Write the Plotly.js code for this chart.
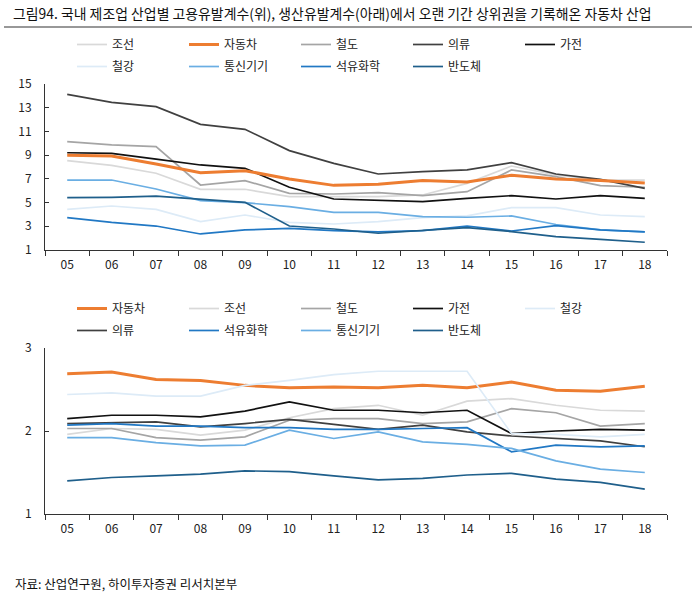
<!DOCTYPE html>
<html>
<head>
<meta charset="utf-8">
<script src="https://cdn.plot.ly/plotly-3.0.1.min.js"></script>
<style>html,body{margin:0;padding:0;background:#fff;}#chart{width:692px;height:593px;}</style>
</head>
<body>
<div id="chart"></div>
<script>
// categories (years)
var years = ['05','06','07','08','09','10','11','12','13','14','15','16','17','18'];

// 고용유발계수 (top)
var emp_shipbuilding = [8.53,8.14,7.47,6.12,6.12,5.5,5.5,5.5,5.64,6.62,8.08,7.33,6.9,6.9];
var emp_auto         = [8.98,8.93,8.25,7.52,7.69,6.99,6.45,6.54,6.85,6.73,7.3,6.99,6.85,6.65];
var emp_rail         = [10.14,9.86,9.72,6.48,6.85,5.78,5.72,5.84,5.58,5.92,7.75,7.19,6.43,6.29];
var emp_apparel      = [14.13,13.45,13.09,11.6,11.18,9.38,8.31,7.41,7.61,7.75,8.37,7.41,6.96,6.2];
var emp_appliance    = [9.2,9.15,8.67,8.17,7.89,6.29,5.3,5.22,5.08,5.36,5.58,5.3,5.58,5.36];
var emp_steel        = [4.43,4.71,4.43,3.39,3.95,3.33,3.19,3.39,3.73,3.87,4.57,4.57,3.95,3.81];
var emp_telecom      = [6.9,6.9,6.14,5.16,4.99,4.65,4.18,4.18,3.81,3.76,3.87,3.15,2.69,2.52];
var emp_petro        = [3.73,3.33,3.02,2.35,2.69,2.83,2.63,2.52,2.63,3.02,2.6,3.05,2.69,2.52];
var emp_semi         = [5.41,5.44,5.55,5.3,5.02,3.02,2.77,2.41,2.63,2.88,2.55,2.12,1.9,1.65];

// 생산유발계수 (bottom)
var prod_auto         = [2.69,2.71,2.62,2.61,2.55,2.52,2.53,2.52,2.55,2.52,2.59,2.49,2.48,2.54];
var prod_shipbuilding = [1.96,2.03,2.02,1.95,2.01,2.16,2.27,2.31,2.19,2.36,2.39,2.31,2.25,2.24];
var prod_rail         = [2.03,2.03,1.92,1.89,1.93,2.13,2.15,2.15,2.09,2.11,2.27,2.22,2.06,2.09];
var prod_appliance    = [2.15,2.19,2.19,2.17,2.24,2.35,2.25,2.25,2.22,2.25,1.97,2.0,2.02,2.01];
var prod_steel        = [2.44,2.46,2.42,2.42,2.55,2.61,2.68,2.72,2.72,2.72,1.97,1.96,1.93,1.96];
var prod_apparel      = [2.09,2.1,2.11,2.05,2.09,2.14,2.08,2.02,2.07,1.99,1.94,1.91,1.88,1.81];
var prod_petro        = [2.07,2.09,2.06,2.06,2.04,2.04,2.02,2.02,2.03,2.04,1.75,1.83,1.81,1.82];
var prod_telecom      = [1.92,1.92,1.86,1.82,1.83,2.01,1.91,1.99,1.87,1.84,1.79,1.64,1.54,1.5];
var prod_semi         = [1.4,1.44,1.46,1.48,1.52,1.51,1.46,1.41,1.43,1.47,1.49,1.42,1.38,1.3];

var yTicksTop = [1,3,5,7,9,11,13,15];
var yTicksBottom = [1,2,3];

var titleText = '그림94. 국내 제조업 산업별 고용유발계수(위), 생산유발계수(아래)에서 오랜 기간 상위권을 기록해온 자동차 산업';
var sourceText = '자료: 산업연구원, 하이투자증권 리서치본부';

var C = {
  '조선': '#D9D9D9', '자동차': '#ED7D31', '철도': '#A5A5A5', '의류': '#404040', '가전': '#111111',
  '철강': '#DDEBF7', '통신기기': '#6AAEE3', '석유화학': '#2178C4', '반도체': '#1F5F8B'
};

function tr(name, y, xa, ya, leg, rank) {
  return {
    type: 'scatter', mode: 'lines', name: name, x: years, y: y,
    xaxis: xa, yaxis: ya, legend: leg, legendrank: rank,
    line: {color: C[name], width: name === '자동차' ? 3 : 1.7},
    hoverinfo: 'skip'
  };
}

var data = [
  // top: legend row 1
  tr('조선', emp_shipbuilding, 'x', 'y', 'legend', 1),
  tr('자동차', emp_auto, 'x', 'y', 'legend', 2),
  tr('철도', emp_rail, 'x', 'y', 'legend', 3),
  tr('의류', emp_apparel, 'x', 'y', 'legend', 4),
  tr('가전', emp_appliance, 'x', 'y', 'legend', 5),
  // top: legend row 2
  tr('철강', emp_steel, 'x', 'y', 'legend2', 1),
  tr('통신기기', emp_telecom, 'x', 'y', 'legend2', 2),
  tr('석유화학', emp_petro, 'x', 'y', 'legend2', 3),
  tr('반도체', emp_semi, 'x', 'y', 'legend2', 4),
  // bottom: legend row 1
  tr('자동차', prod_auto, 'x2', 'y2', 'legend3', 1),
  tr('조선', prod_shipbuilding, 'x2', 'y2', 'legend3', 2),
  tr('철도', prod_rail, 'x2', 'y2', 'legend3', 3),
  tr('가전', prod_appliance, 'x2', 'y2', 'legend3', 4),
  tr('철강', prod_steel, 'x2', 'y2', 'legend3', 5),
  // bottom: legend row 2
  tr('의류', prod_apparel, 'x2', 'y2', 'legend4', 1),
  tr('석유화학', prod_petro, 'x2', 'y2', 'legend4', 2),
  tr('통신기기', prod_telecom, 'x2', 'y2', 'legend4', 3),
  tr('반도체', prod_semi, 'x2', 'y2', 'legend4', 4)
];
// draw the orange line of the top chart last (on top)
data.push(data.splice(1,1)[0]);

var FONT = '"Noto Sans CJK KR", "Noto Sans", sans-serif';
var axisColor = '#333333';

function xAxis(anchor) {
  return {
    type: 'category', anchor: anchor, domain: [0, 1], range: [-0.5, years.length - 0.5],
    showline: true, linecolor: axisColor, linewidth: 1,
    ticks: 'outside', tickson: 'boundaries', ticklen: 5, tickcolor: axisColor,
    showgrid: false, zeroline: false, fixedrange: true,
    tickfont: {size: 12, color: '#222'}, ticklabelstandoff: 4
  };
}
function yAxis(anchor, dom, range, tv) {
  return {
    anchor: anchor, domain: dom, range: range, tickvals: tv, ticktext: tv.map(String),
    showline: true, linecolor: axisColor, linewidth: 1,
    ticks: 'inside', ticklen: 4, tickcolor: axisColor,
    showgrid: false, zeroline: false, fixedrange: true,
    tickfont: {size: 12, color: '#222'}, ticklabelstandoff: 10
  };
}
function legendObj(y) {
  return {
    orientation: 'h', x: 0.0434, xanchor: 'left', y: y, yanchor: 'top',
    xref: 'paper', yref: 'paper',
    entrywidth: 67, entrywidthmode: 'pixels',
    font: {size: 12, color: '#222', family: FONT},
    bgcolor: 'rgba(0,0,0,0)', borderwidth: 0, traceorder: 'normal',
    itemclick: false, itemdoubleclick: false
  };
}

var layout = {
  width: 692, height: 593,
  margin: {l: 45, r: 25, t: 84, b: 79, autoexpand: false},
  paper_bgcolor: '#fff', plot_bgcolor: '#fff',
  font: {family: FONT, size: 12, color: '#222'},
  title: {
    text: titleText, xref: 'container', yref: 'container',
    x: 13/692, xanchor: 'left', y: 1 - 14/593, yanchor: 'middle',
    font: {size: 13.9, color: '#111', family: FONT}
  },
  showlegend: true,
  legend: legendObj(1.1256),
  legend2: legendObj(1.0744),
  legend3: legendObj(0.5116),
  legend4: legendObj(0.4605),
  xaxis: xAxis('y'),
  yaxis: yAxis('x', [0.614, 1], [1, 15], yTicksTop),
  xaxis2: xAxis('y2'),
  yaxis2: yAxis('x2', [0, 0.386], [1, 3], yTicksBottom),
  shapes: [{
    type: 'line', xref: 'paper', yref: 'paper',
    x0: (4-45)/622, x1: (692-45)/622, y0: (514-27)/430, y1: (514-27)/430,
    line: {color: '#333', width: 1.2}
  }],
  annotations: [{
    text: sourceText, xref: 'paper', yref: 'paper',
    x: (13-45)/622, xanchor: 'left', y: (514-583)/430, yanchor: 'middle',
    showarrow: false, font: {size: 12.5, color: '#111', family: FONT}
  }],
  hovermode: false
};

Plotly.newPlot('chart', data, layout, {staticPlot: true, displayModeBar: false});
</script>
</body>
</html>
